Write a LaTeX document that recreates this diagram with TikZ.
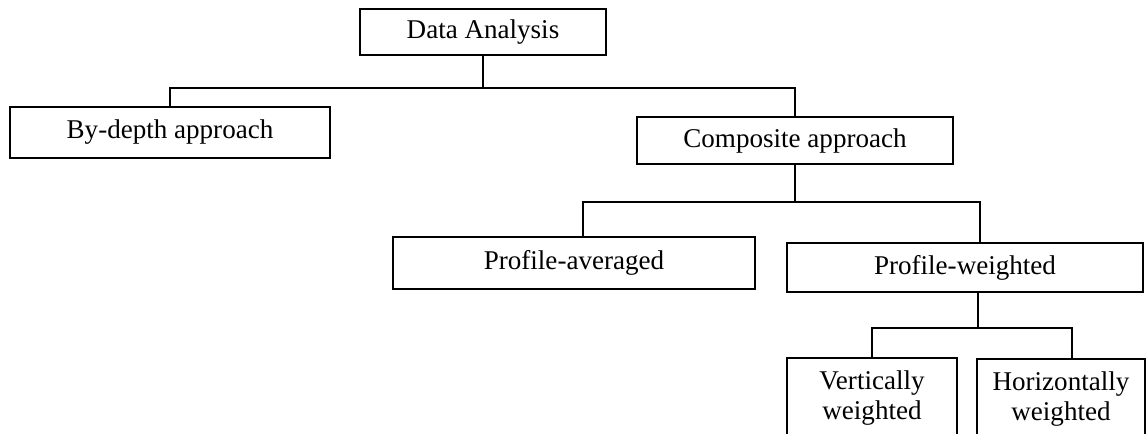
\documentclass[tikz,border=0pt]{standalone}
\usepackage{fontspec}
\setmainfont{Liberation Serif}

\tikzstyle{boite} = [rectangle, draw, line width=0.9pt, text centered, inner sep=0pt, font=\fontsize{15.4}{17.5}\selectfont]
\tikzstyle{trait} = [draw, line width=0.9pt]

\begin{document}
\begin{tikzpicture}[x=0.2mm, y=-0.2mm]

    \useasboundingbox (0,0) rectangle (1146,434);
    \clip (0,0) rectangle (1146,434);

    %  nodes
    \node [boite, minimum width=4.92cm, minimum height=0.92cm] (DA) at (483,32) {Data Analysis};

    %-------------------------------------------------------------
    \node [boite, minimum width=6.4cm, minimum height=1.02cm] (BD) at (170,132.5) {By-depth approach};
    \node [boite, minimum width=6.32cm, minimum height=0.94cm] (CA) at (795,140.5) {Composite approach};

    %-------------------------------------------------------------
    \node [boite, minimum width=7.24cm, minimum height=1.04cm] (PA) at (574,263) {Profile-averaged};
    \node [boite, minimum width=7.12cm, minimum height=0.98cm] (PW) at (965,267.5) {Profile-weighted};

    %-------------------------------------------------------------
    \node [boite, align=center, minimum width=3.4cm, minimum height=1.6cm] (VW) at (872,398) {Vertically\\weighted};
    \node [boite, align=center, minimum width=3.36cm, minimum height=1.6cm] (HW) at (1061,399) {Horizontally\\weighted};

    % liens
    \coordinate (J1) at (483,88);
    \draw [trait] (DA) -- (J1);
    \draw [trait] (BD.north) |- (J1) -| (CA.north);

    \coordinate (J2) at (795,202);
    \coordinate (J2a) at (583,202);
    \coordinate (J2b) at (980,202);
    \draw [trait] (CA) -- (J2);
    \draw [trait] (J2a |- PA.north) -- (J2a) -- (J2b) -- (J2b |- PW.north);

    \coordinate (J3) at (978,328);
    \coordinate (J3b) at (1072,328);
    \draw [trait] (J3 |- PW.south) -- (J3);
    \draw [trait] (VW.north) |- (J3b) -- (J3b |- HW.north);

\end{tikzpicture}
\end{document}
